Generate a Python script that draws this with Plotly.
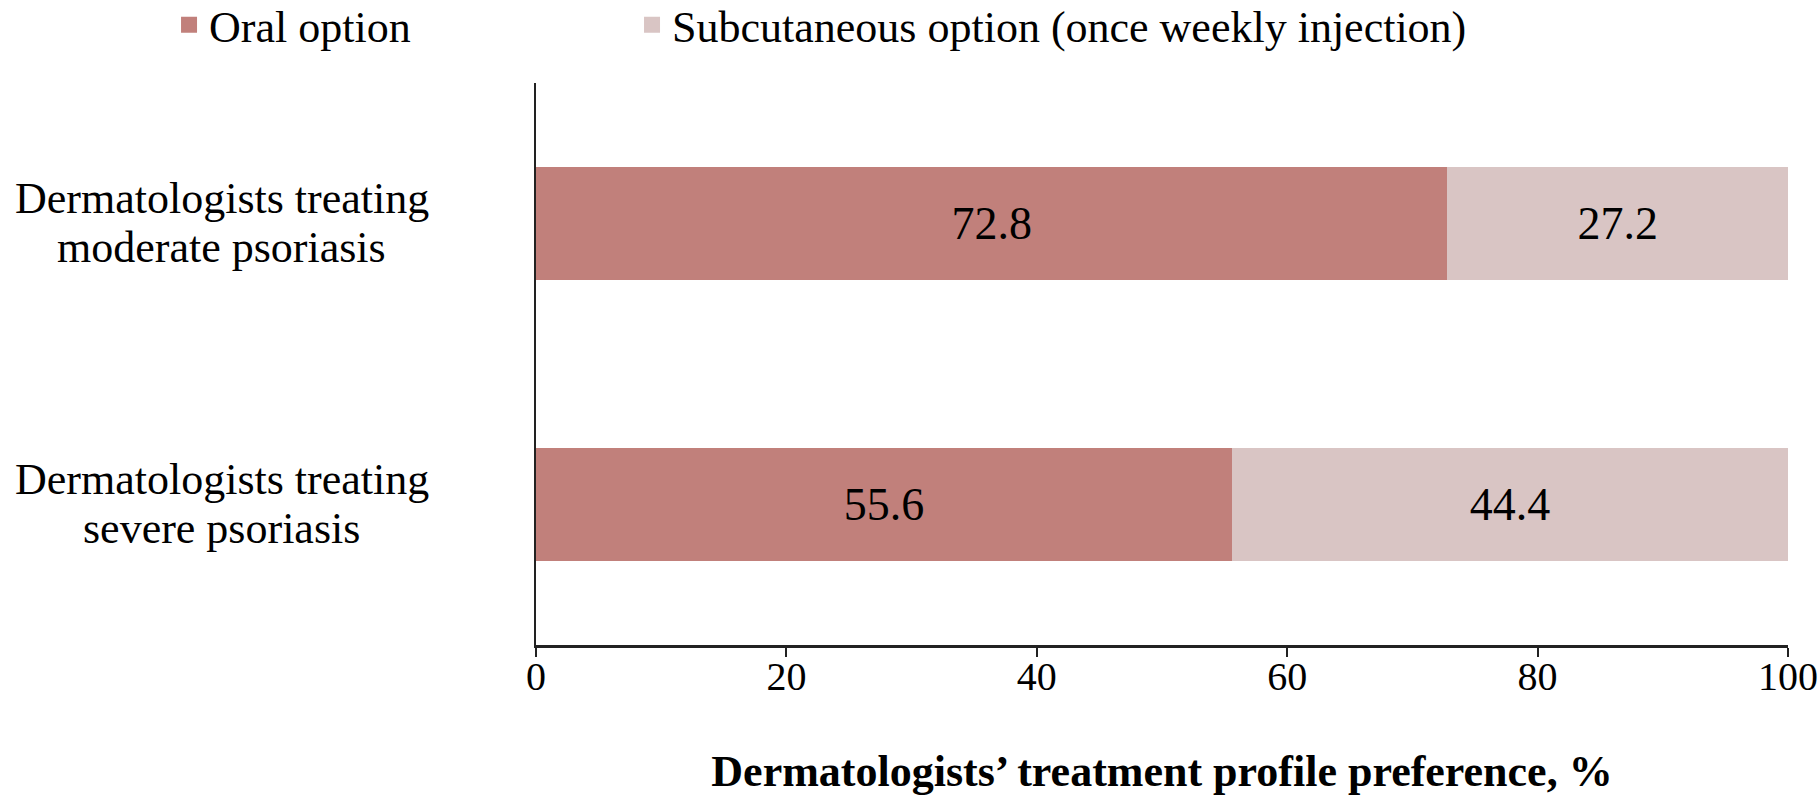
import plotly.graph_objects as go

categories = ["Dermatologists treating moderate psoriasis",
              "Dermatologists treating severe psoriasis"]
label_lines = [["Dermatologists treating", "moderate psoriasis"],
               ["Dermatologists treating", "severe psoriasis"]]
oral_values = [72.8, 55.6]
subcutaneous_values = [27.2, 44.4]
series_names = ["Oral option", "Subcutaneous option (once weekly injection)"]
x_ticks = [0, 20, 40, 60, 80, 100]
x_title = "Dermatologists\u2019 treatment profile preference, %"

ORAL = "rgb(193,128,123)"
SUB = "rgb(217,197,196)"
FONT = "Liberation Serif, Times New Roman, serif"

fig = go.Figure()
for name, vals, col, lg in [(series_names[0], oral_values, ORAL, "legend"),
                            (series_names[1], subcutaneous_values, SUB, "legend2")]:
    fig.add_trace(go.Bar(
        y=categories, x=vals, orientation="h", name=name,
        marker=dict(color=col, line=dict(width=0)),
        text=[f"{v:.1f}" for v in vals], textposition="inside",
        insidetextanchor="middle", textangle=0,
        textfont=dict(family=FONT, size=46, color="black"),
        showlegend=False, width=0.4,
    ))
    # legend entries with larger square markers
    fig.add_trace(go.Scatter(
        x=[None], y=[None], mode="markers", name=name,
        marker=dict(symbol="square", size=16, color=col),
        showlegend=True, legend=lg,
    ))

annotations = []
for cat, lines in zip(categories, label_lines):
    for i, ln in enumerate(lines):
        annotations.append(dict(
            x=-0.2508, xref="paper", y=cat, yref="y", text=ln,
            showarrow=False, xanchor="center", yanchor="middle",
            yshift=25 if i == 0 else -24,
            font=dict(family=FONT, size=44, color="black"),
        ))

legend_common = dict(orientation="h", xanchor="left", y=1.103, yanchor="middle",
                     font=dict(family=FONT, size=44, color="black"),
                     bgcolor="rgba(0,0,0,0)", itemclick=False)

fig.update_layout(
    width=1819, height=796,
    margin=dict(l=536, r=31, t=83, b=151, autoexpand=False),
    paper_bgcolor="white", plot_bgcolor="white",
    barmode="stack",
    font=dict(family=FONT, color="black"),
    legend=dict(x=-0.2931, **legend_common),
    legend2=dict(x=0.0767, **legend_common),
    annotations=annotations,
    xaxis=dict(range=[0, 100], tickvals=x_ticks, ticks="outside", ticklen=9,
               tickwidth=2, tickcolor="#222", showline=True, linewidth=3,
               linecolor="#222", showgrid=False, zeroline=False,
               ticklabelstandoff=-15,
               tickfont=dict(family=FONT, size=40, color="black"),
               title=dict(text="<b>" + x_title + "</b>", standoff=62,
                          font=dict(family=FONT, size=44, color="black"))),
    yaxis=dict(categoryorder="array", categoryarray=categories[::-1],
               showline=True, linewidth=2, linecolor="#222", showgrid=False,
               zeroline=False, showticklabels=False, ticks=""),
)

fig.write_html(
    "out.html",
    config={"displayModeBar": False},
    post_script="document.body.style.margin='0';document.body.style.overflow='hidden';",
)
